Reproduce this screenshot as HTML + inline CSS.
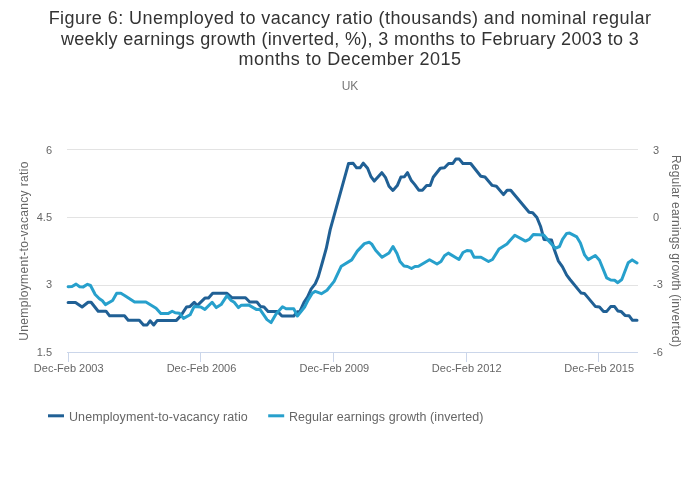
<!DOCTYPE html>
<html><head><meta charset="utf-8">
<style>
html,body{margin:0;padding:0;background:#fff;}
body{will-change:transform;width:700px;height:502px;position:relative;overflow:hidden;font-family:"Liberation Sans",sans-serif;}
.t{position:absolute;white-space:nowrap;line-height:1;}
.title{left:0;width:700px;text-align:center;font-size:18px;color:#333;}
.yl{font-size:11px;color:#666;text-align:right;width:40px;}
.yr{font-size:11px;color:#666;}
.xl{font-size:11px;color:#666;width:120px;text-align:center;}
.lg{font-size:12.5px;color:#666;}
</style></head><body>
<div class="t title" style="top:9px;letter-spacing:0.44px">Figure 6: Unemployed to vacancy ratio (thousands) and nominal regular</div>
<div class="t title" style="top:29.5px;letter-spacing:0.32px">weekly earnings growth (inverted, %), 3 months to February 2003 to 3</div>
<div class="t title" style="top:50px;letter-spacing:0.48px">months to December 2015</div>
<div class="t" style="top:80px;left:0;width:700px;text-align:center;font-size:12px;color:#777">UK</div>
<svg width="700" height="502" style="position:absolute;left:0;top:0">
<rect x="67" y="149" width="571" height="1" fill="#e3e3e3"/>
<rect x="67" y="217" width="571" height="1" fill="#e3e3e3"/>
<rect x="67" y="285" width="571" height="1" fill="#e3e3e3"/>
<rect x="67" y="352" width="571" height="1" fill="#cbd6ea"/>
<rect x="68" y="352" width="1" height="10" fill="#cbd6ea"/>
<rect x="200" y="352" width="1" height="10" fill="#cbd6ea"/>
<rect x="333" y="352" width="1" height="10" fill="#cbd6ea"/>
<rect x="466" y="352" width="1" height="10" fill="#cbd6ea"/>
<rect x="598" y="352" width="1" height="10" fill="#cbd6ea"/>
<path d="M68.1,302.5 L75.5,302.5 L82.1,307 L88.1,302.3 L91.1,302.3 L98.2,311.2 L106,311.2 L109.6,315.8 L124.5,315.8 L128.2,320.2 L139.3,320.2 L143.5,325 L147.1,325 L150.1,320.8 L153.7,325 L157.3,320.4 L176.4,320.4 L181.1,315.4 L186.5,307 L190.1,306.4 L194.2,302.3 L197.2,305.6 L204.9,298.1 L208.5,298.1 L212.7,293.3 L227,293.3 L231.8,297.7 L245.5,297.7 L249.7,302 L256.9,302 L260.4,306.4 L264,307 L268.1,311.6 L277.7,311.6 L281.9,316 L293.8,316 L297.4,311.8 L299.8,311.5 L304,302.3 L307.6,296.9 L311.1,289.1 L315.3,283.7 L318.3,276.6 L322.2,263 L326.2,248.7 L330.2,229.6 L348.5,163.6 L353.2,163.3 L356.6,167.8 L360,167.8 L363.3,163.2 L367.6,168.3 L370.8,176.3 L374.3,181.1 L381.8,172.7 L385.4,177.3 L389,186.2 L392.9,190.4 L397.3,185.6 L400.9,177 L404.5,176.7 L407.5,172.7 L411.1,180.2 L414.6,184.4 L418.8,190.2 L422.4,190.2 L426.6,185.6 L430.2,185.6 L433.2,177.3 L440.3,168.3 L444.5,167.7 L448.6,163.5 L452.8,163.5 L455.8,159.1 L459.3,159.1 L462.9,163.5 L470.7,163.5 L480.8,176.3 L485,177 L492.2,185.4 L496.4,186.2 L503.5,194.6 L507.1,190.2 L510.7,190.2 L529.1,212.2 L532.7,212.7 L536.9,217.5 L540.5,226.2 L544,239.4 L551.5,240 L554.1,248.9 L558.3,260.8 L562.5,266.8 L566.7,275.2 L570,279.5 L581.2,293.1 L584.4,293.4 L595.5,306.6 L599.5,307.1 L603.5,311.4 L606.7,311.4 L610.7,306.6 L614.6,306.6 L617.8,310.9 L621,311.4 L625,315.4 L629,315.7 L632.5,320.3 L637,320.3" fill="none" stroke="#206095" stroke-width="3" stroke-linejoin="round" stroke-linecap="round"/>
<path d="M68.1,286.7 L72,286.5 L76.1,284.1 L79.7,286.7 L83.3,286.9 L87.5,284.3 L90.5,285.5 L95.2,294.5 L99.4,298.7 L102.4,300.8 L105.4,304.6 L112.6,300.5 L116.7,293.3 L120.9,293.3 L125,295.7 L134.6,302 L145.9,302 L156.1,308.2 L160.8,313.6 L168,313.6 L172.2,311.2 L175.2,312.8 L179.4,313.2 L183.5,318.4 L190.1,314.8 L194.2,306.4 L200.8,307 L204.9,309.4 L212.1,302.3 L216.3,307.6 L221.1,304.6 L227,295.7 L231.2,300.5 L234.2,302.3 L238.4,307.6 L241.4,305.2 L248.5,304.9 L256.3,309.4 L259.8,309.2 L267,319.6 L271.1,322.6 L275.9,314.2 L282.5,306.8 L286.1,308.8 L293.8,308.8 L297.4,316 L304.6,307 L308.2,299.9 L312.3,293.3 L315.3,291.3 L321.4,293.7 L327,290.2 L334.1,281.4 L341.3,266.2 L351.7,259.9 L357.3,251.1 L364.4,243.6 L369.2,242.3 L371.6,243.9 L375.6,250.3 L382,257.3 L389,253 L393,246.5 L397,253.5 L400,261.5 L404,266 L407.5,266.5 L411.5,268.5 L415,266.5 L418.5,266.2 L429.5,259.8 L437,264 L441,261.5 L444.5,255.8 L448.3,253.1 L459,259.5 L463,252.5 L467,250.5 L471,251 L474,257.2 L481,257.2 L488.5,261.5 L492.5,259.5 L499,249 L507,244 L510,240.5 L514.8,235.2 L525.5,241.1 L529.1,239.4 L533.3,234.6 L543.7,235 L549.9,242.3 L555.3,248.3 L559.5,246.5 L562.5,239.3 L566.7,233.4 L569.6,233.1 L576.8,236.9 L580.4,242.9 L584.6,254.9 L588.2,259.6 L595.3,255.5 L599.5,260.2 L606.7,277.9 L610.7,280 L614.6,280.3 L617.8,282.7 L621.8,279.5 L628.2,262.8 L632.2,259.9 L637,262.9" fill="none" stroke="#27a0cc" stroke-width="3" stroke-linejoin="round" stroke-linecap="round"/>
<rect x="48" y="414.3" width="16" height="3" fill="#206095"/>
<rect x="268.2" y="414.3" width="16" height="3" fill="#27a0cc"/>
</svg>
<div class="t yl" style="left:12px;top:145px">6</div>
<div class="t yl" style="left:12px;top:212px">4.5</div>
<div class="t yl" style="left:12px;top:279px">3</div>
<div class="t yl" style="left:12px;top:347px">1.5</div>
<div class="t yr" style="left:653px;top:145px">3</div>
<div class="t yr" style="left:653px;top:212px">0</div>
<div class="t yr" style="left:653px;top:279px">-3</div>
<div class="t yr" style="left:653px;top:347px">-6</div>
<div class="t xl" style="left:8.7px;top:363px">Dec-Feb 2003</div>
<div class="t xl" style="left:141.5px;top:363px">Dec-Feb 2006</div>
<div class="t xl" style="left:274.3px;top:363px">Dec-Feb 2009</div>
<div class="t xl" style="left:406.7px;top:363px">Dec-Feb 2012</div>
<div class="t xl" style="left:539.2px;top:363px">Dec-Feb 2015</div>
<div class="t" style="left:24.4px;top:251px;font-size:12px;color:#666;letter-spacing:0.345px;transform:translate(-50%,-50%) rotate(-90deg)">Unemployment-to-vacancy ratio</div>
<div class="t" style="left:676px;top:250.7px;font-size:12px;color:#666;letter-spacing:0.22px;transform:translate(-50%,-50%) rotate(90deg)">Regular earnings growth (inverted)</div>
<div class="t lg" style="left:69px;top:411px;letter-spacing:0.08px">Unemployment-to-vacancy ratio</div>
<div class="t lg" style="left:289px;top:411px;letter-spacing:0.06px">Regular earnings growth (inverted)</div>
</body></html>
